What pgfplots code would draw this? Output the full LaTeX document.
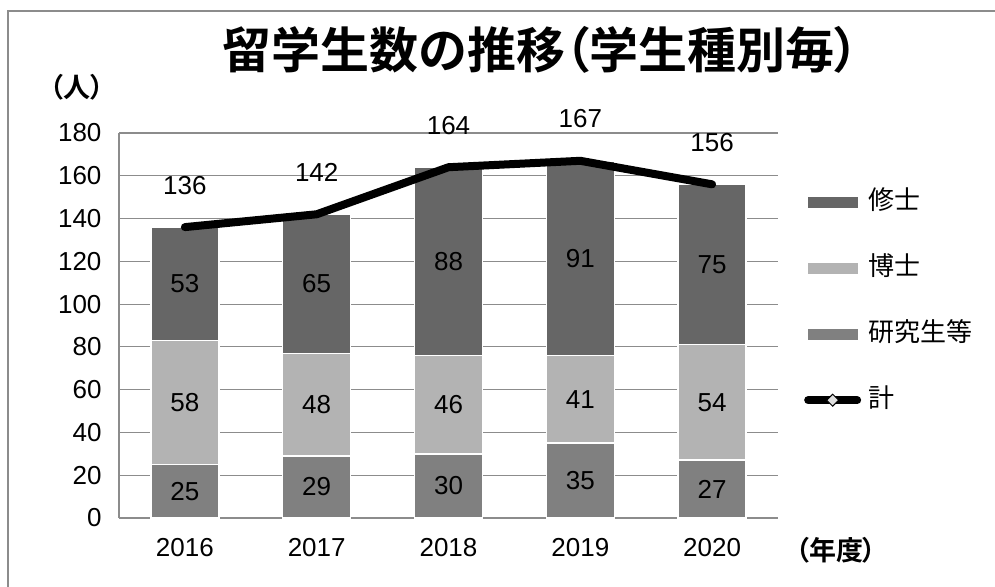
\documentclass[border=0pt]{standalone}
\usepackage{pgfplots}
\pgfplotsset{compat=1.18}
\usepackage{pgfplotstable}
\usepackage{fontspec}
\setmainfont{Liberation Sans}
\newfontfamily\jp[RawFeature=+palt, BoldFont={Noto Sans CJK JP Bold}]{Noto Sans CJK JP}
\definecolor{shushi}{HTML}{666666}
\definecolor{hakase}{HTML}{B3B3B3}
\definecolor{kenkyu}{HTML}{808080}
\definecolor{gridc}{HTML}{8C8C8C}
\pgfplotstableread{
x year ken hak shu tot
0 2016 25 58 53 136
1 2017 29 48 65 142
2 2018 30 46 88 164
3 2019 35 41 91 167
4 2020 27 54 75 156
}\data
\pgfplotstablecreatecol[create col/expr={\thisrow{ken}/2}]{kenm}\data
\pgfplotstablecreatecol[create col/expr={\thisrow{ken}+\thisrow{hak}/2}]{hakm}\data
\pgfplotstablecreatecol[create col/expr={\thisrow{ken}+\thisrow{hak}+\thisrow{shu}/2}]{shum}\data
\pgfplotsset{
  base/.style={
    at={(119pt,68pt)}, anchor=south west, scale only axis,
    width=659pt, height=385pt,
    xmin=-0.5, xmax=4.5, ymin=0, ymax=180,
    ytick={0,20,...,180}, xtick={0,...,4},
    xticklabels={2016,2017,2018,2019,2020},
    major tick length=0pt,
    tick label style={font=\fontsize{26}{26}\selectfont},
    /pgf/number format/assume math mode=true,
    xticklabel style={yshift=-17pt},
    yticklabel style={xshift=-14pt},
  },
  seg/.style={fill=#1, draw=white, line width=1.5pt},
  lab/.style={draw=none, mark=none, forget plot, nodes near coords, point meta=explicit,
    every node near coord/.style={anchor=center, font=\fontsize{26}{26}\selectfont, black}},
}
\begin{document}
\begin{tikzpicture}
\useasboundingbox (0,0) rectangle (995pt,586pt);
\draw[gridc, line width=1.2pt] (8pt,-5pt) -- (8pt,575pt) -- (1000pt,575pt);
\node[font=\jp\bfseries\fontsize{49}{49}\selectfont] at (541pt,536pt) {留学生数の推移（学生種別毎）};
\node[font=\jp\bfseries\fontsize{27}{27}\selectfont] at (77pt,499pt) {（人）};
\node[font=\jp\bfseries\fontsize{27}{27}\selectfont] at (836pt,36pt) {（年度）};
\begin{axis}[base,
    ybar stacked, bar width=68pt,
    ymajorgrids, grid style={gridc, line width=1.2pt},
    axis x line*=bottom, axis y line*=left,
    axis line style={gridc, line width=1.2pt},
  ]
  \addplot[seg=kenkyu] table[x=x, y=ken] {\data};
  \addplot[seg=hakase] table[x=x, y=hak] {\data};
  \addplot[seg=shushi] table[x=x, y=shu] {\data};
\end{axis}
\begin{axis}[base, hide axis,
    legend style={at={(1.0394,0.8545)}, anchor=north west, draw=none, fill=none,
      inner sep=0pt, row sep=40pt, column sep=7pt,
      nodes={inner sep=0pt, text height=20pt, text depth=6pt},
      font=\jp\fontsize{26}{26}\selectfont},
    legend cell align=left,
  ]
  \addplot[lab] table[x=x, y=kenm, meta=ken] {\data};
  \addplot[lab] table[x=x, y=hakm, meta=hak] {\data};
  \addplot[lab] table[x=x, y=shum, meta=shu] {\data};
  \addplot[black, line width=8pt, line cap=round, line join=round, mark=none,
    nodes near coords, point meta=explicit,
    every node near coord/.style={anchor=center, yshift=42pt, font=\fontsize{26}{26}\selectfont, black},
    forget plot] table[x=x, y=tot, meta=tot] {\data};
  \addlegendimage{legend image code/.code={\fill[shushi] (0pt,-5pt) rectangle (49pt,5pt);}}
  \addlegendentry{修士}
  \addlegendimage{legend image code/.code={\fill[hakase] (0pt,-5pt) rectangle (49pt,5pt);}}
  \addlegendentry{博士}
  \addlegendimage{legend image code/.code={\fill[kenkyu] (0pt,-5pt) rectangle (49pt,5pt);}}
  \addlegendentry{研究生等}
  \addlegendimage{legend image code/.code={\draw[black, line width=8pt, line cap=round] (0pt,0pt) -- (49pt,0pt);
      \fill[gray!25, draw=black, line width=1pt] (18.5pt,0pt) -- (24.5pt,6pt) -- (30.5pt,0pt) -- (24.5pt,-6pt) -- cycle;}}
  \addlegendentry{計}
\end{axis}
\end{tikzpicture}
\end{document}
